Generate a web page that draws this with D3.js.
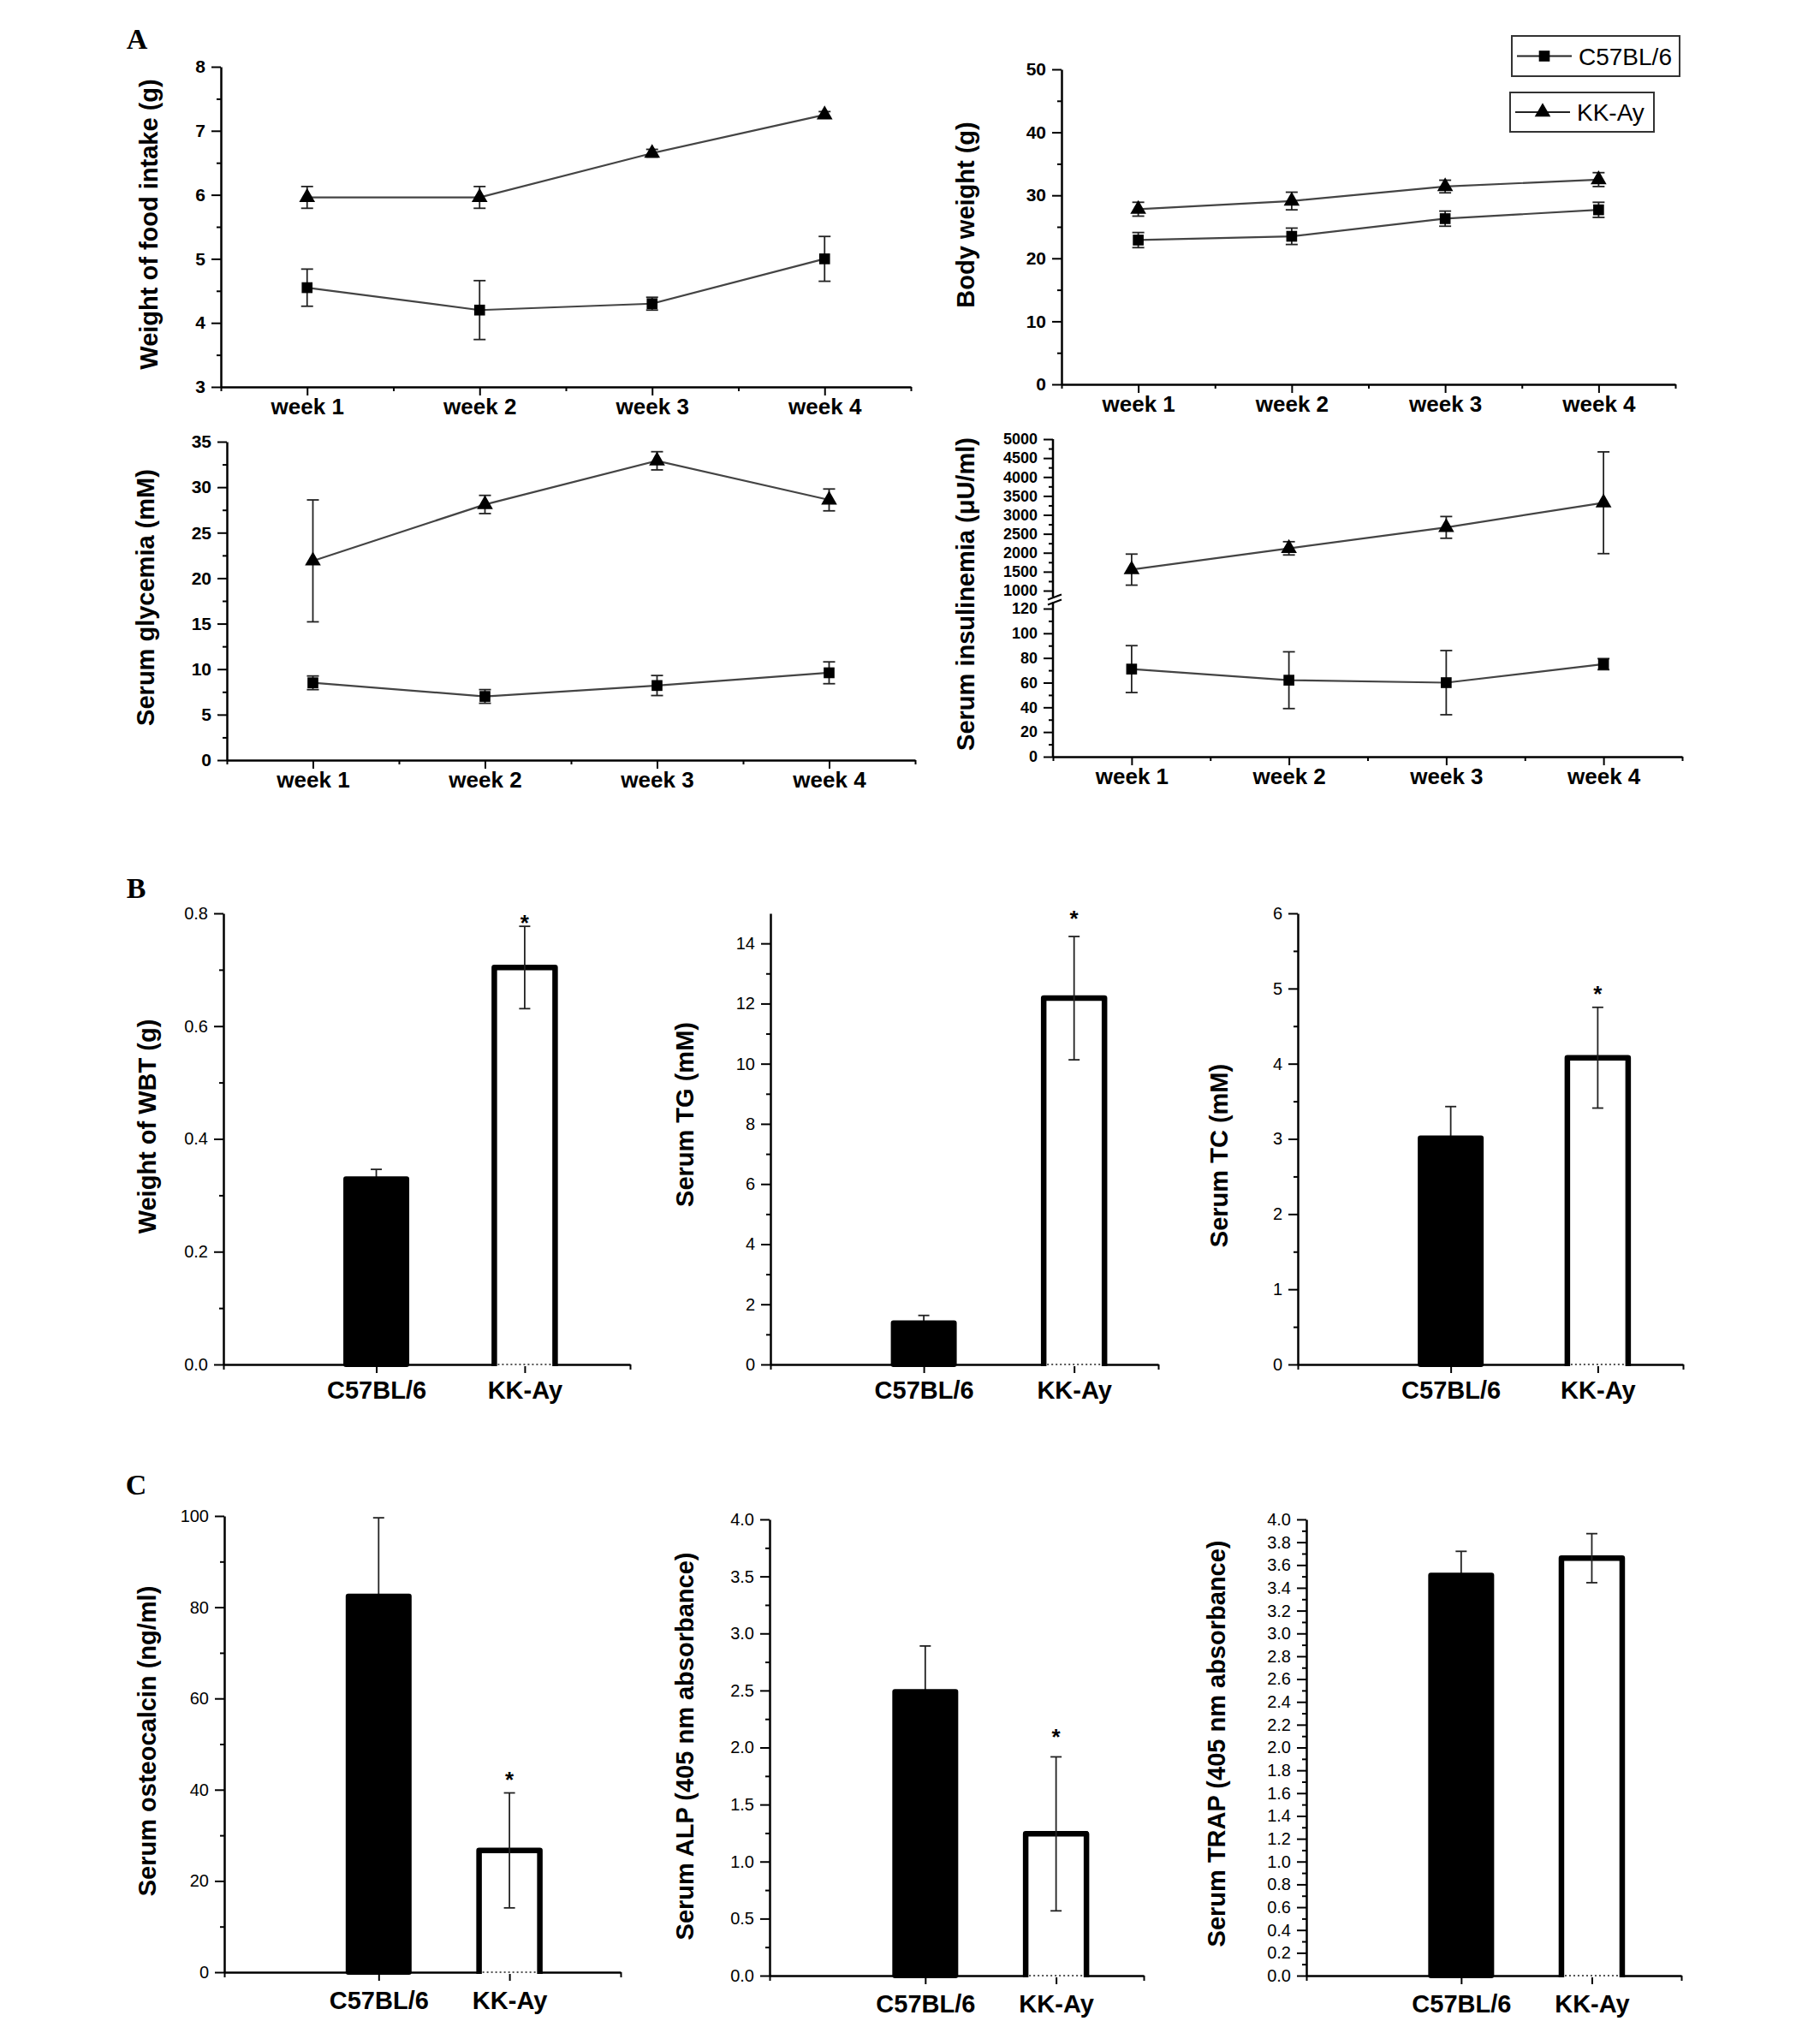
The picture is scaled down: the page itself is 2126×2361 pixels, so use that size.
<!DOCTYPE html>
<html>
<head>
<meta charset="utf-8">
<script src="https://cdn.jsdelivr.net/npm/d3@7"></script>
<style>
  body { margin: 0; background: #fff; }
  svg { display: block; }
</style>
</head>
<body>
<svg id="fig" width="2126" height="2361"></svg>
<script>
// ---------- data ----------
const weeks = ['week 1', 'week 2', 'week 3', 'week 4'];
const strains = ['C57BL/6', 'KK-Ay'];

// A: weekly measurements (mean, error)
const foodC57 = [4.55, 4.20, 4.30, 5.00];
const foodC57Err = [0.29, 0.46, 0.10, 0.35];
const foodKK = [5.96, 5.96, 6.65, 7.25];
const foodKKErr = [0.17, 0.17, 0.06, 0.05];

const bwC57 = [22.9, 23.5, 26.3, 27.7];
const bwC57Err = [1.2, 1.3, 1.2, 1.2];
const bwKK = [27.8, 29.1, 31.4, 32.5];
const bwKKErr = [1.1, 1.4, 1.0, 1.1];

const gluC57 = [8.5, 7.0, 8.2, 9.6];
const gluC57Err = [0.75, 0.75, 1.1, 1.2];
const gluKK = [21.9, 28.1, 32.9, 28.6];
const gluKKErr = [6.7, 1.0, 1.0, 1.2];

const insC57 = [71, 62, 60, 75];
const insC57Err = [19, 23, 26, 4.5];
const insKK = [1555, 2117, 2670, 3320];
const insKKErr = [410, 175, 287, 1343];

// B and C: end-point measurements [C57BL/6, KK-Ay]
const wbt = [0.329, 0.704];
const wbtErr = [0.017, 0.073];
const tg = [1.38, 12.18];
const tgErr = [0.25, 2.05];
const tc = [3.01, 4.08];
const tcErr = [0.42, 0.67];
const osteo = [82.4, 26.7];
const osteoErr = [17.2, 12.6];
const alp = [2.49, 1.243];
const alpErr = [0.40, 0.675];
const trap = [3.51, 3.66];
const trapErr = [0.21, 0.215];

// significance marks (value level of the asterisk), null = none
const wbtStar = 0.793;
const tgStar = 15.0;
const tcStar = 5.0;
const osteoStar = 43.3;
const alpStar = 2.14;

// tick labels
const foodTicks = [3, 4, 5, 6, 7, 8];
const bwTicks = [0, 10, 20, 30, 40, 50];
const gluTicks = [0, 5, 10, 15, 20, 25, 30, 35];
const insUpperTicks = [1000, 1500, 2000, 2500, 3000, 3500, 4000, 4500, 5000];
const insLowerTicks = [0, 20, 40, 60, 80, 100, 120];
const wbtTicks = [0, 0.2, 0.4, 0.6, 0.8];
const tgTicks = [0, 2, 4, 6, 8, 10, 12, 14];
const tcTicks = [0, 1, 2, 3, 4, 5, 6];
const osteoTicks = [0, 20, 40, 60, 80, 100];
const alpTicks = [0, 0.5, 1.0, 1.5, 2.0, 2.5, 3.0, 3.5, 4.0];
const trapTicks = [0, 0.2, 0.4, 0.6, 0.8, 1.0, 1.2, 1.4, 1.6, 1.8, 2.0, 2.2, 2.4, 2.6, 2.8, 3.0, 3.2, 3.4, 3.6, 3.8, 4.0];

// ---------- drawing ----------
const FONT = '"Liberation Sans", Arial, Helvetica, sans-serif';
const svg = d3.select('#fig').attr('font-family', FONT);
svg.append('rect').attr('width', 2126).attr('height', 2361).attr('fill', '#fff');

function styleAxis(a, fs, bold) {
    a.attr('font-family', FONT).attr('font-size', fs).attr('font-weight', bold ? 'bold' : 'normal');
    a.select('.domain').attr('stroke', '#000').attr('stroke-width', 2.5);
    a.selectAll('.tick line').attr('stroke', '#000').attr('stroke-width', 2);
    a.selectAll('.tick text').attr('fill', '#000');
}

function minorTicks(major, step) {
    const lo = d3.min(major), hi = d3.max(major);
    return d3.range(lo, hi + step / 2, step).filter(v => !major.some(m => Math.abs(m - v) < step / 10));
}

function drawYAxis(g, y, xPos, major, minor, fmt, fs, bold, domain = true) {
    const a = g.append('g').attr('transform', `translate(${xPos},0)`)
        .call(d3.axisLeft(y).tickValues(major).tickFormat(d3.format(fmt)).tickSize(11).tickSizeOuter(0).tickPadding(7));
    styleAxis(a, fs, bold);
    if (!domain) a.select('.domain').remove();
    const m = g.append('g').attr('transform', `translate(${xPos},0)`)
        .call(d3.axisLeft(y).tickValues(minor).tickFormat(() => '').tickSize(5).tickSizeOuter(0));
    m.select('.domain').remove();
    m.selectAll('.tick line').attr('stroke', '#000').attr('stroke-width', 2);
}

function yTitle(g, text, cx, cy) {
    const fs = 29;
    g.append('text')
        .attr('transform', `translate(${cx + 0.25 * fs},${cy}) rotate(-90)`)
        .attr('text-anchor', 'middle')
        .attr('font-size', fs)
        .attr('font-weight', 'bold')
        .text(text);
}

function errBar(g, cx, y, v, e, cap) {
    const eb = g.append('g').attr('stroke', '#222').attr('stroke-width', 1.8);
    eb.append('line').attr('x1', cx).attr('x2', cx).attr('y1', y(v - e)).attr('y2', y(v + e));
    [v - e, v + e].forEach(t => {
        eb.append('line').attr('x1', cx - cap / 2).attr('x2', cx + cap / 2).attr('y1', y(t)).attr('y2', y(t));
    });
}

const squareSym = d3.symbol().type(d3.symbolSquare).size(160);
const triSym = d3.symbol().type(d3.symbolTriangle).size(150);

function drawSeries(g, x, y, vals, errs, sym) {
    const pts = vals.map((v, i) => [x(i + 1), y(v)]);
    g.append('path').attr('d', d3.line()(pts)).attr('fill', 'none').attr('stroke', '#444').attr('stroke-width', 2.2);
    vals.forEach((v, i) => errBar(g, x(i + 1), y, v, errs[i], 14));
    g.selectAll(null).data(pts).enter().append('path')
        .attr('d', sym)
        .attr('transform', d => `translate(${d[0]},${d[1]})`)
        .attr('fill', '#000');
}

function weekAxis(g, x, yPos) {
    const a = g.append('g').attr('transform', `translate(0,${yPos})`)
        .call(d3.axisBottom(x).tickValues([1, 2, 3, 4]).tickFormat((d, i) => weeks[i]).tickSize(10).tickSizeOuter(0).tickPadding(4));
    styleAxis(a, 26, true);
    const m = g.append('g').attr('transform', `translate(0,${yPos})`)
        .call(d3.axisBottom(x).tickValues([0.5, 1.5, 2.5, 3.5, 4.5]).tickFormat(() => '').tickSize(5).tickSizeOuter(0));
    m.select('.domain').remove();
    m.selectAll('.tick line').attr('stroke', '#000').attr('stroke-width', 2);
}

function linePanel(p) {
    const g = svg.append('g');
    const x = d3.scaleLinear().domain([0.5, 4.5]).range([p.left, p.right]);
    const y = d3.scaleLinear().domain([d3.min(p.ticks), d3.max(p.ticks)]).range([p.bottom, p.top]);
    weekAxis(g, x, p.bottom);
    drawYAxis(g, y, p.left, p.ticks, minorTicks(p.ticks, p.minor), 'd', 21, true);
    drawSeries(g, x, y, p.c57, p.c57Err, squareSym);
    drawSeries(g, x, y, p.kk, p.kkErr, triSym);
    yTitle(g, p.title, p.titleX, p.titleY);
}

linePanel({ left: 258, right: 1064, top: 78, bottom: 452, ticks: foodTicks, minor: 0.5,
    c57: foodC57, c57Err: foodC57Err, kk: foodKK, kkErr: foodKKErr,
    title: 'Weight of food intake (g)', titleX: 177, titleY: 262 });
linePanel({ left: 1240, right: 1957, top: 81, bottom: 449, ticks: bwTicks, minor: 5,
    c57: bwC57, c57Err: bwC57Err, kk: bwKK, kkErr: bwKKErr,
    title: 'Body weight (g)', titleX: 1131, titleY: 251 });
linePanel({ left: 265, right: 1069, top: 516, bottom: 888, ticks: gluTicks, minor: 2.5,
    c57: gluC57, c57Err: gluC57Err, kk: gluKK, kkErr: gluKKErr,
    title: 'Serum glycemia (mM)', titleX: 173, titleY: 698 });

// insulinemia panel with a broken y axis
(function () {
    const p = { left: 1230, right: 1965, top: 513, breakHi: 690, breakLo: 711, bottom: 884 };
    const g = svg.append('g');
    const x = d3.scaleLinear().domain([0.5, 4.5]).range([p.left, p.right]);
    const yUp = d3.scaleLinear().domain([1000, 5000]).range([p.breakHi, p.top]);
    const yLo = d3.scaleLinear().domain([0, 120]).range([p.bottom, p.breakLo]);
    weekAxis(g, x, p.bottom);
    g.append('line').attr('x1', p.left).attr('x2', p.left).attr('y1', p.top).attr('y2', p.bottom)
        .attr('stroke', '#000').attr('stroke-width', 2.5);
    drawYAxis(g, yUp, p.left, insUpperTicks, minorTicks(insUpperTicks, 250), 'd', 18, true, false);
    drawYAxis(g, yLo, p.left, insLowerTicks, minorTicks(insLowerTicks, 10), 'd', 18, true, false);
    // break marks
    const mid = (p.breakHi + p.breakLo) / 2;
    g.append('rect').attr('x', p.left - 3).attr('y', mid - 3).attr('width', 6).attr('height', 6).attr('fill', '#fff');
    [-3, 3].forEach(o => {
        g.append('line').attr('x1', p.left - 6).attr('x2', p.left + 10)
            .attr('y1', mid + o + 3).attr('y2', mid + o - 3)
            .attr('stroke', '#000').attr('stroke-width', 2);
    });
    drawSeries(g, x, yLo, insC57, insC57Err, squareSym);
    drawSeries(g, x, yUp, insKK, insKKErr, triSym);
    yTitle(g, 'Serum insulinemia (\u03bcU/ml)', 1131, 694);
})();

// legend
function legendBox(x0, y0, w, h, sym, label) {
    const g = svg.append('g').attr('transform', `translate(${x0},${y0})`);
    g.append('rect').attr('width', w).attr('height', h).attr('fill', '#fff').attr('stroke', '#333').attr('stroke-width', 2);
    g.append('line').attr('x1', 6).attr('x2', 70).attr('y1', h / 2).attr('y2', h / 2).attr('stroke', '#222').attr('stroke-width', 2);
    g.append('path').attr('d', sym).attr('transform', `translate(38,${h / 2})`).attr('fill', '#000');
    g.append('text').attr('x', 78).attr('y', h / 2 + 10).attr('font-size', 28).text(label);
}
legendBox(1766, 42, 196, 47, squareSym, strains[0]);
legendBox(1764, 108, 168, 46, triSym, strains[1]);

// bar panels
function barPanel(p) {
    const g = svg.append('g');
    const x = d3.scaleLinear().domain([0, p.xMax]).range([p.left, p.right]);
    const y = d3.scaleLinear().domain(p.yDomain).range([p.bottom, p.top]);
    const cats = strains.map((s, i) => p.first + i);
    const xa = g.append('g').attr('transform', `translate(0,${p.bottom})`)
        .call(d3.axisBottom(x).tickValues(cats).tickFormat((d, i) => strains[i]).tickSize(10).tickSizeOuter(0).tickPadding(p.labelPad));
    styleAxis(xa, 29, true);
    const xm = g.append('g').attr('transform', `translate(0,${p.bottom})`)
        .call(d3.axisBottom(x).tickValues([0, p.xMax]).tickFormat(() => '').tickSize(6).tickSizeOuter(0));
    xm.select('.domain').remove();
    xm.selectAll('.tick line').attr('stroke', '#000').attr('stroke-width', 2);
    drawYAxis(g, y, p.left, p.ticks, minorTicks(p.ticks, p.minor), p.fmt, 20, false);

    const bw = 77;
    p.values.forEach((v, i) => {
        const cx = x(cats[i]);
        if (i === 0) {
            errBar(g, cx, y, v, p.errs[i], 13);
            g.append('rect')
                .attr('x', cx - bw / 2 + 3).attr('width', bw - 6)
                .attr('y', y(v)).attr('height', y(0) - y(v))
                .attr('fill', '#000').attr('stroke', '#000').attr('stroke-width', 6).attr('stroke-linejoin', 'round');
        } else {
            g.append('rect')
                .attr('x', cx - bw / 2 + 3).attr('width', bw - 6)
                .attr('y', y(v)).attr('height', y(0) - y(v) + 2)
                .attr('fill', '#fff');
            g.append('path')
                .attr('d', `M${cx - bw / 2 + 3},${y(0) + 2}V${y(v)}H${cx + bw / 2 - 3}V${y(0) + 2}`)
                .attr('fill', 'none').attr('stroke', '#000').attr('stroke-width', 6.5).attr('stroke-linejoin', 'round');
            g.append('line')
                .attr('x1', cx - bw / 2 + 7).attr('x2', cx + bw / 2 - 7).attr('y1', y(0)).attr('y2', y(0))
                .attr('stroke', '#555').attr('stroke-width', 2).attr('stroke-dasharray', '2,3');
            errBar(g, cx, y, v, p.errs[i], 13);
            if (p.star != null) {
                g.append('text').attr('x', cx).attr('y', y(p.star) + 0.58 * 26)
                    .attr('text-anchor', 'middle').attr('font-size', 26).attr('font-weight', 'bold').text('*');
            }
        }
    });
    yTitle(g, p.title, p.titleX, p.titleY);
}

barPanel({ left: 261, right: 736, xMax: 2.74, first: 1.03, top: 1067, bottom: 1594, yDomain: [0, 0.8],
    ticks: wbtTicks, minor: 0.1, fmt: '.1f', values: wbt, errs: wbtErr, star: wbtStar, labelPad: 9,
    title: 'Weight of WBT (g)', titleX: 175, titleY: 1316 });
barPanel({ left: 900, right: 1353, xMax: 2.58, first: 1.02, top: 1067, bottom: 1594, yDomain: [0, 15],
    ticks: tgTicks, minor: 1, fmt: 'd', values: tg, errs: tgErr, star: tgStar, labelPad: 9,
    title: 'Serum TG (mM)', titleX: 803, titleY: 1302 });
barPanel({ left: 1516, right: 1966, xMax: 2.62, first: 1.04, top: 1067, bottom: 1594, yDomain: [0, 6],
    ticks: tcTicks, minor: 0.5, fmt: 'd', values: tc, errs: tcErr, star: tcStar, labelPad: 9,
    title: 'Serum TC (mM)', titleX: 1427, titleY: 1350 });

barPanel({ left: 262, right: 725, xMax: 3.03, first: 1.18, top: 1771, bottom: 2304, yDomain: [0, 100],
    ticks: osteoTicks, minor: 10, fmt: 'd', values: osteo, errs: osteoErr, star: osteoStar, labelPad: 12,
    title: 'Serum osteocalcin (ng/ml)', titleX: 175, titleY: 2034 });
barPanel({ left: 899, right: 1336, xMax: 2.86, first: 1.19, top: 1775, bottom: 2308, yDomain: [0, 4],
    ticks: alpTicks, minor: 0.25, fmt: '.1f', values: alp, errs: alpErr, star: alpStar, labelPad: 12,
    title: 'Serum ALP (405 nm absorbance)', titleX: 803, titleY: 2040 });
barPanel({ left: 1526, right: 1964, xMax: 2.87, first: 1.185, top: 1775, bottom: 2308, yDomain: [0, 4],
    ticks: trapTicks, minor: 0.1, fmt: '.1f', values: trap, errs: trapErr, star: null, labelPad: 12,
    title: 'Serum TRAP (405 nm absorbance)', titleX: 1424, titleY: 2037 });

// panel letters
[['A', 160, 57], ['B', 159, 1049], ['C', 159, 1746]].forEach(([t, lx, ly]) => {
    svg.append('text').attr('x', lx).attr('y', ly).attr('text-anchor', 'middle')
        .attr('font-family', '"Liberation Serif", "Times New Roman", serif')
        .attr('font-size', 34).attr('font-weight', 'bold').text(t);
});
</script>
</body>
</html>
